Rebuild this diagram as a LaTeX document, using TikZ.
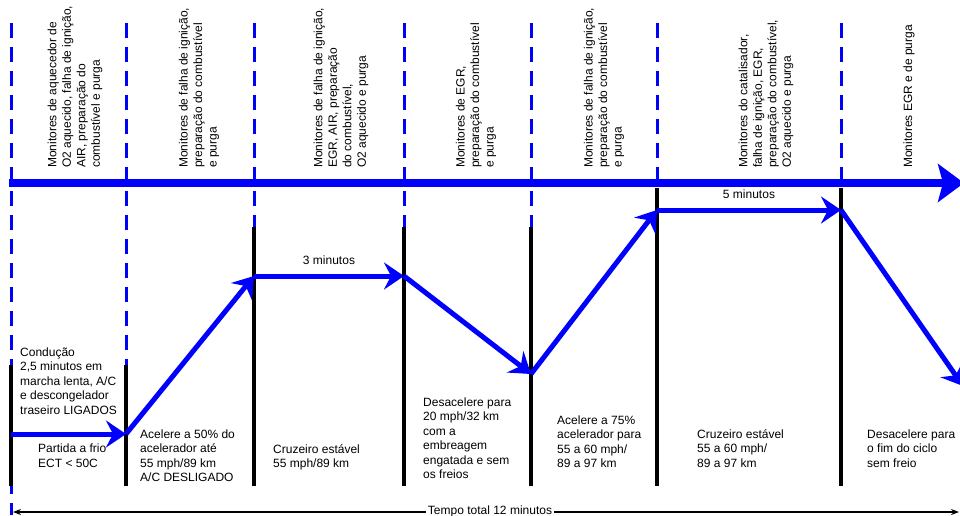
\documentclass[tikz,border=0pt]{standalone}
\usepackage{amsmath}
\usepackage{fontspec}
\setmainfont{Liberation Sans}
\usetikzlibrary{arrows.meta}

\begin{document}
\begin{tikzpicture}[x = 1pt, y = -1pt,
    every node/.style = {inner sep = 0pt, text = black, font = \fontsize{12}{14.5}\selectfont},
    mon/.style = {rotate = 90, anchor = west, align = left},
    info/.style = {anchor = north west, align = left},
    phase/.style = {blue, line width = 5pt, -{Stealth[length = 20pt, width = 27pt, inset = 7pt]}},
    lim/.style = {line width = 3.3pt},
    guide/.style = {blue, line width = 3pt, dash pattern = on 15pt off 9pt}]
        \useasboundingbox (0,0) rectangle (960,515);
        \draw[guide] (11,23) -- (11,515);
        \foreach \x/\y in {126/365, 254/227, 404/227, 531/227, 657/183, 841/183}
          \draw[guide] (\x,23) -- (\x,\y);
        \foreach \x/\y in {11/365, 126/365, 254/227, 404/227, 531/227, 657/188, 841/188}
          \draw[lim] (\x,\y) -- (\x,486);
        \draw[blue, line width = 8pt, -{Stealth[length = 26pt, width = 38pt, inset = 5pt]}] (9,183) -- (964,183);
        \node[mon] (m1) at (75,168) {Monitores de aquecedor de\\O2 aquecido, falha de ignição,\\AIR, preparação do\\combustível e purga};
        \node[mon] (m2) at (199,168) {Monitores de falha de ignição,\\preparação do combustível\\e purga};
        \node[mon] (m3) at (341,168) {Monitores de falha de ignição,\\EGR, AIR, preparação\\do combustível,\\O2 aquecido e purga};
        \node[mon] (m4) at (476,168) {Monitores de EGR,\\preparação do combustível\\e purga};
        \node[mon] (m5) at (604,168) {Monitores de falha de ignição,\\preparação do combustível\\e purga};
        \node[mon] (m6) at (766,168) {Monitores do catalisador,\\falha de ignição, EGR,\\preparação do combustível,\\O2 aquecido e purga};
        \node[mon] (m7) at (909,168) {Monitores EGR e de purga};
        \coordinate (p0) at (11,434);
        \coordinate (p1) at (126,434);
        \coordinate (p2) at (254,276);
        \coordinate (p3) at (404,276);
        \coordinate (p4) at (531,374);
        \coordinate (p5) at (657,210);
        \coordinate (p6) at (841,210);
        \coordinate (p7) at (963,386);
        \draw[phase] (p0) -- (p1);
        \draw[phase] (p1) -- (p2);
        \draw[phase] (p2) -- (p3) node[midway, above = 9pt] (d3) {3 minutos};
        \draw[phase] (p3) -- (p4);
        \draw[phase] (p4) -- (p5);
        \draw[phase] (p5) -- (p6) node[midway, above = 9pt] (d5) {5 minutos};
        \draw[phase] (p6) -- (p7);
        \node[info] (i0) at (20,347.2) {Condução\\2,5 minutos em\\marcha lenta, A/C\\e descongelador\\traseiro LIGADOS};
        \node[info] (i1) at (38,444) {Partida a frio\\ECT < 50C};
        \node[info] (i2) at (140,429.2) {Acelere a 50\% do\\acelerador até\\55 mph/89 km\\A/C DESLIGADO};
        \node[info] (i3) at (273,444) {Cruzeiro estável\\55 mph/89 km};
        \node[info] (i4) at (423,397.2) {Desacelere para\\20 mph/32 km\\com a\\embreagem\\engatada e sem\\os freios};
        \node[info] (i5) at (557,415.2) {Acelere a 75\%\\acelerador para\\55 a 60 mph/\\89 a 97 km};
        \node[info] (i6) at (697,429.2) {Cruzeiro estável\\55 a 60 mph/\\89 a 97 km};
        \node[info] (i7) at (867,429.2) {Desacelere para\\o fim do ciclo\\sem freio};
        \coordinate (t0) at (13,512);
        \coordinate (t1) at (959,512);
        \draw[line width = 2pt, {Stealth[length = 8pt, width = 6pt]}-{Stealth[length = 8pt, width = 6pt]}] (t0) -- (t1);
        \node[fill = white, inner xsep = 1.5pt, anchor = base] (tot) at (490,514) {Tempo total 12 minutos};
      \end{tikzpicture}
\end{document}
